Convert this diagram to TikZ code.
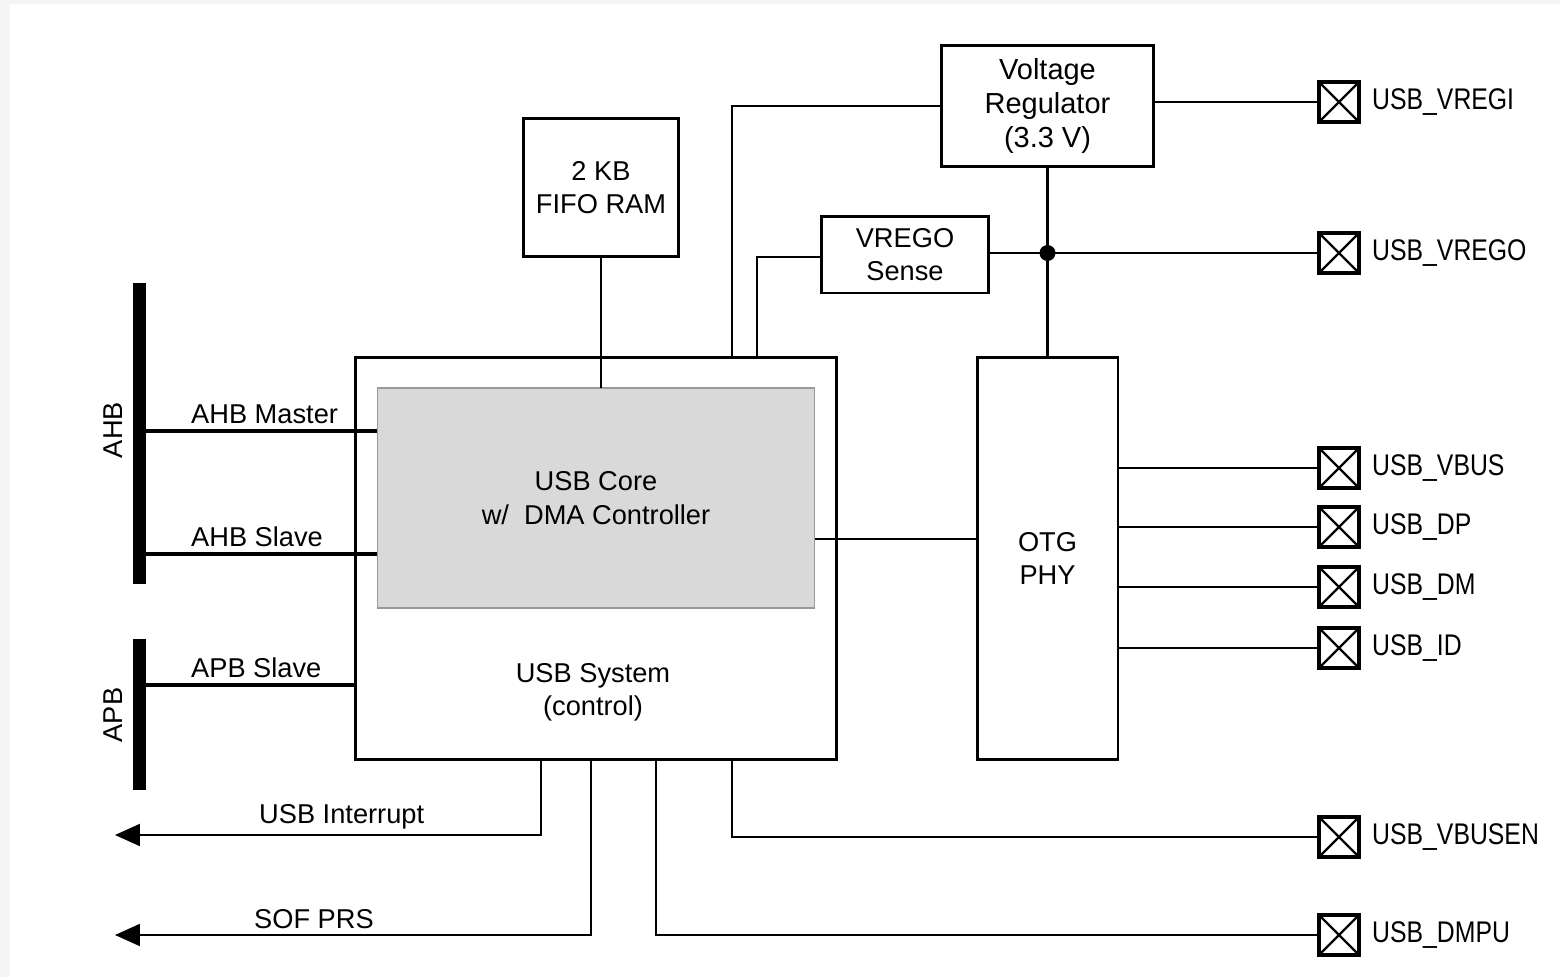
\documentclass[tikz,border=0pt]{standalone}
\usepackage{fontspec}
\setmainfont{Liberation Sans}
\newfontfamily\padfont{Liberation Sans}[FakeStretch=0.83]
\usetikzlibrary{arrows.meta,positioning}
\definecolor{ink}{HTML}{000000}
\definecolor{coregray}{HTML}{D9D9D9}
\definecolor{pagegray}{HTML}{F5F5F5}
\tikzset{
  txt/.style={
    text=ink,
    font=\fontsize{15.5}{19}\selectfont,
    align=center
  },
  box/.style={
    draw=ink,
    line width=1.7pt,
    inner sep=0pt,
    outer sep=0pt
  },
  corebox/.style={
    draw=gray!80,
    fill=coregray,
    line width=0.6pt,
    inner sep=0pt,
    outer sep=0pt
  },
  bar/.style={
    fill=ink,
    inner sep=0pt,
    outer sep=0pt,
    minimum width=0.26cm
  },
  pad/.style={
    draw=ink,
    line width=2.3pt,
    minimum size=0.8cm,
    inner sep=0pt,
    outer sep=0pt,
    path picture={
      \draw[line width=1.3pt] (path picture bounding box.north west) -- (path picture bounding box.south east);
      \draw[line width=1.3pt] (path picture bounding box.south west) -- (path picture bounding box.north east);
    }
  },
  padtext/.style={
    text=ink,
    font=\padfont\fontsize{17}{20}\selectfont,
    label distance=4pt
  },
  wire/.style={
    draw=ink,
    line width=1.2pt
  },
  busline/.style={
    draw=ink,
    line width=2.8pt
  },
  arrow/.style={
    -{Triangle[length=5mm,width=4.4mm]},
    draw=ink,
    line width=1.2pt
  }
}

\begin{document}
\begin{tikzpicture}[x=0.02cm,y=-0.02cm]
  % Page
  \useasboundingbox (0,0) rectangle (1560,977);
  \fill[pagegray] (0,0) rectangle (1560,977);
  \fill[white] (10,4) rectangle (1560,977);

  % Blocks
  \node[box, minimum width=9.64cm, minimum height=8.06cm] (sys) at (596,558.5) {};
  \node[corebox, txt, minimum width=8.76cm, minimum height=4.4cm] (core) at (596,498)
    {USB Core\\w/\ \ DMA Controller};
  \node[txt] (sysLabel) at (593,692) {USB System\\(control)};
  \node[box, txt, minimum width=3.12cm, minimum height=2.78cm] (fifo) at (601,187.5)
    {2 KB\\FIFO RAM};
  \node[box, txt, font=\fontsize{16.5}{19.5}\selectfont, minimum width=4.26cm, minimum height=2.42cm]
    (vreg) at (1047.5,106) {Voltage\\Regulator\\(3.3 V)};
  \node[box, txt, minimum width=3.36cm, minimum height=1.54cm] (sense) at (905,254.5)
    {VREGO\\Sense};
  \node[box, txt, minimum width=2.82cm, minimum height=8.06cm] (otg) at (1047.5,558.5)
    {OTG\\PHY};

  % Buses
  \node[bar, minimum height=6.02cm] (ahb) at (139.5,433.5) {};
  \node[bar, minimum height=3.02cm] (apb) at (139.5,714.5) {};
  \node[txt, rotate=90] (ahbLabel) at (113,430) {AHB};
  \node[txt, rotate=90] (apbLabel) at (113,715) {APB};

  % Pads
  \foreach \pname/\py in {VREGI/102, VREGO/253, VBUS/468, DP/527, DM/587, ID/648, VBUSEN/837, DMPU/935} {
    \node[pad, label={[padtext]right:USB\_\pname}] (\pname) at (1339,\py) {};
  }

  % Tap points
  \coordinate (vregTap) at (732,357);
  \coordinate (senseTap) at (757,357);
  \coordinate (masterIn) at (377,431);
  \coordinate (slaveIn) at (377,554);
  \coordinate (apbIn) at (355,685);
  \coordinate (phyIn) at (977,539);
  \coordinate (irqTap) at (541,760);
  \coordinate (sofTap) at (591,760);
  \coordinate (dmpuTap) at (656,760);
  \coordinate (vbusenTap) at (732,760);
  \coordinate (irqEnd) at (115,835);
  \coordinate (sofEnd) at (115,935);

  % Bus links
  \draw[busline] (ahb.east |- masterIn) -- (masterIn);
  \draw[busline] (ahb.east |- slaveIn) -- (slaveIn);
  \draw[busline] (apb.east |- apbIn) -- (apbIn);
  \node[txt, anchor=base west] (masterLabel) at (185,423) {AHB Master};
  \node[txt, anchor=base west] (slaveLabel) at (185,546) {AHB Slave};
  \node[txt, anchor=base west] (apbSlaveLabel) at (185,677) {APB Slave};

  % Internal wiring
  \draw[wire] (fifo.south) -- (fifo.south |- core.north);
  \draw[wire] (vreg.west) -| (vregTap);
  \draw[wire] ([yshift=-0.05cm]sense.west) -| (senseTap);
  \draw[wire] (vreg.south) -- (otg.north);
  \draw[wire] (sense.east |- VREGO) -- (VREGO.west);
  \fill[ink] (vreg.south |- VREGO) circle (0.16cm);
  \draw[wire] (VREGI.west -| vreg.east) -- (VREGI.west);
  \draw[wire] (core.east |- phyIn) -- (phyIn);
  \foreach \p in {VBUS,DP,DM,ID} {
    \draw[wire] (otg.east |- \p) -- (\p.west);
  }
  \draw[wire] (vbusenTap) |- (VBUSEN.west);
  \draw[wire] (dmpuTap) |- (DMPU.west);

  % Outputs
  \draw[arrow] (irqTap) |- (irqEnd);
  \draw[arrow] (sofTap) |- (sofEnd);
  \node[txt, anchor=base west] (irqLabel) at (253,823) {USB Interrupt};
  \node[txt, anchor=base west] (sofLabel) at (248,928) {SOF PRS};
\end{tikzpicture}
\end{document}
